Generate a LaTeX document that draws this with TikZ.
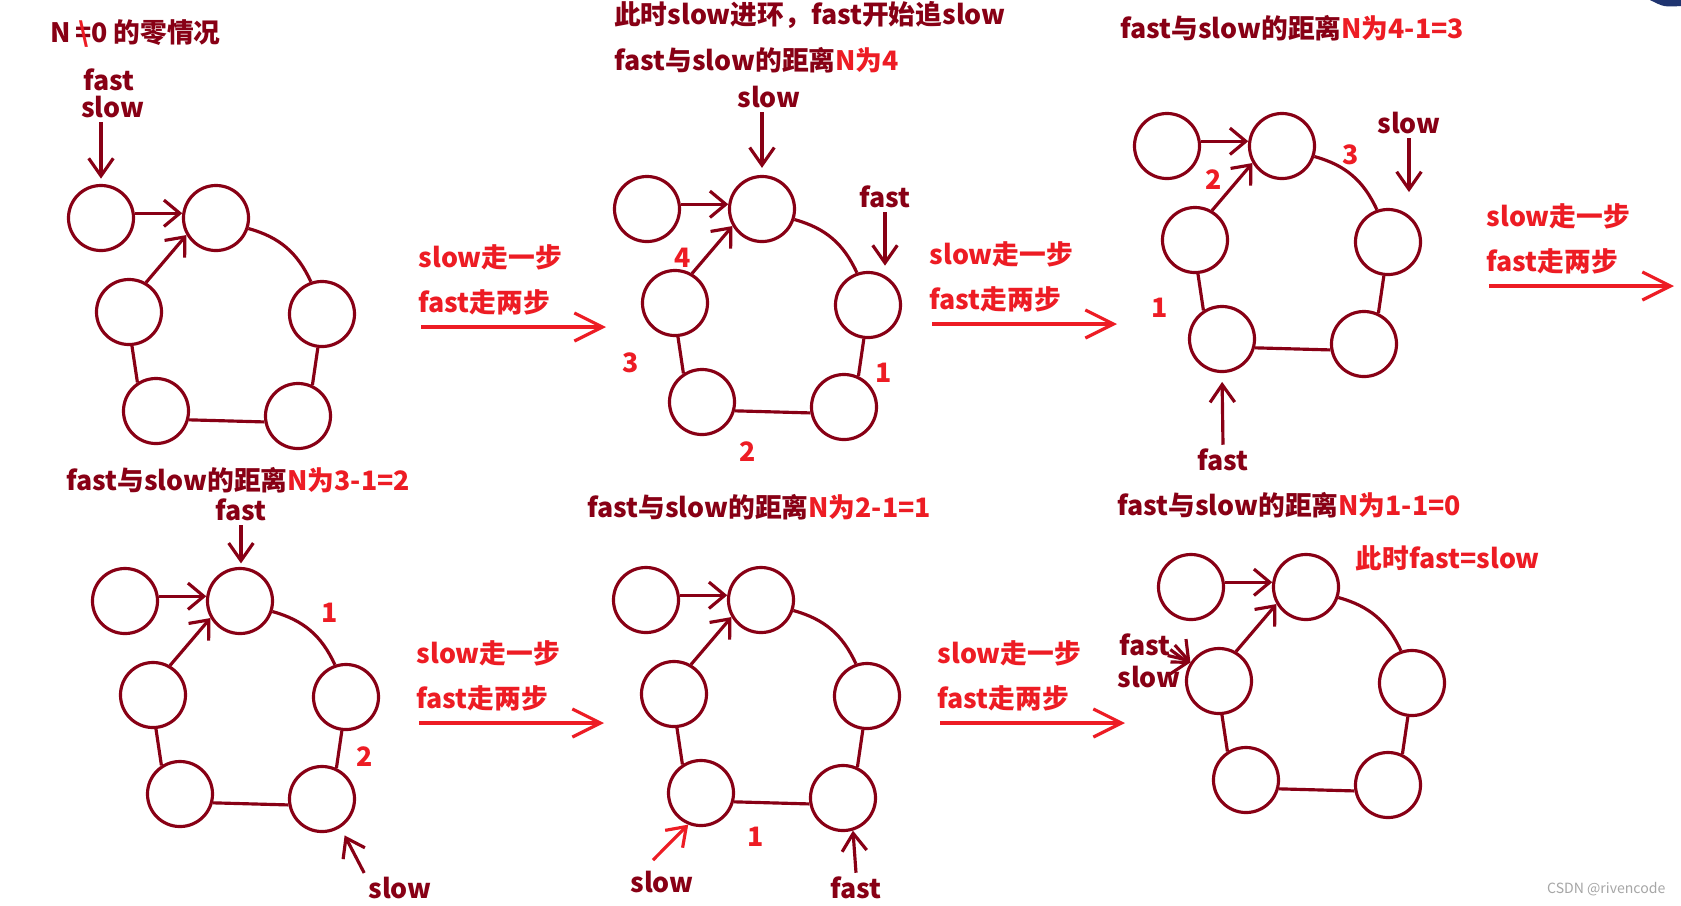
\documentclass[tikz,border=0pt]{standalone}
\usepackage{fontspec}
\setmainfont{Noto Sans CJK SC}
\usetikzlibrary{arrows.meta,calc}
\definecolor{dred}{HTML}{880015}
\definecolor{pred}{HTML}{ED1C24}
\definecolor{navy}{HTML}{1F3470}
% one copy of the list: tail node a, entry node b, ring b-d-f-e-c
\newcommand\cyclecase[3]{%
  \begin{scope}[shift={(#2,#3)}]
    \node[ring] (#1a) at (-115,0) {};
    \node[ring] (#1b) at (0,0) {};
    \node[ring] (#1c) at (-87,94) {};
    \node[ring] (#1d) at (106,96) {};
    \node[ring] (#1e) at (-60,193) {};
    \node[ring] (#1f) at (82,198) {};
    \draw[link, head] (#1a.8) -- (#1b.172);
    \draw[link, head] (#1c.60) -- (#1b.210);
    \draw[link] (#1b.-18) to[bend left=25] (#1d.109);
    \draw[link] (#1d.263) -- (#1f.65);
    \draw[link] (#1f.190) -- (#1e.-15);
    \draw[link] (#1e.123) -- (#1c.-85);
  \end{scope}}
% the red "one step / two steps" note between two cases
\newcommand\stepnote[3]{%
  \node[move, anchor=west] (#1up) at (#2,#3) {slow走一步};
  \node[move, anchor=west] (#1dn) at (#2,#3+45) {fast走两步};
  \coordinate (#1s) at (#2+3,#3+70);
  \coordinate (#1t) at (#2+188,#3+70);
  \draw[moveline] (#1s) -- (#1t);}
\begin{document}
\begin{tikzpicture}[x=0.01cm, y=-0.01cm,
  ring/.style={circle, draw=dred, line width=0.9pt, minimum size=0.65cm, inner sep=0pt},
  link/.style={dred, line width=0.9pt},
  head/.style={-{Straight Barb[length=4.5pt,width=7.5pt]}},
  ptr/.style={dred, line width=0.9pt, -{Straight Barb[length=5pt,width=7pt]}},
  lbl/.style={text=dred, font=\bfseries\fontsize{7.6}{9}\selectfont, inner sep=1pt},
  num/.style={text=pred, font=\bfseries\fontsize{7.6}{9}\selectfont, inner sep=0pt},
  move/.style={num},
  moveline/.style={pred, line width=0.9pt, -{Straight Barb[length=8pt,width=8pt]}}]
  \path[fill=white, use as bounding box] (0,0) rectangle (1681,905);
  \fill[navy] (1650,0) -- (1681,0) -- (1681,6) .. controls (1664,7) .. (1650,0);
  % Case 1
  \node[lbl, anchor=west] (t1) at (46,34) {N\,\ooalign{=\cr\hidewidth\textcolor{pred}{\textbackslash}\hidewidth\cr}0 的零情况};
  \cyclecase{p1}{216}{218}
  \node[lbl, anchor=west] (p1fast) at (79,80) {fast};
  \node[lbl, anchor=west] (p1slow) at (77,107) {slow};
  \draw[ptr, shorten >=1.5pt] (p1slow.south -| p1a.north) -- (p1a.north);
  \stepnote{m1}{418}{257}
  % Case 2
  \node[lbl, anchor=west] (t2a) at (610,15) {此时slow进环，fast开始追slow};
  \node[lbl, anchor=west] (t2b) at (610,60) {fast与slow的距离\textcolor{pred}{N为4}};
  \cyclecase{p2}{762}{209}
  \node[lbl] (p2slow) at (769,97) {slow};
  \draw[ptr, shorten >=2pt] (p2slow.south -| p2b.north) -- (p2b.north);
  \node[lbl] (p2fast) at (885,197) {fast};
  \draw[ptr, shorten >=1.5pt] (p2fast.south) -- (p2fast.south |- p2d.north);
  \node[num] (p2n4) at (683,258) {4};
  \node[num] (p2n3) at (631,363) {3};
  \node[num] (p2n2) at (748,452) {2};
  \node[num] (p2n1) at (884,373) {1};
  \stepnote{m2}{929}{254}
  % Case 3
  \node[lbl, anchor=west] (t3) at (1116,28) {fast与slow的距离\textcolor{pred}{N为4-1=3}};
  \cyclecase{p3}{1282}{146}
  \node[lbl] (p3slow) at (1409,123) {slow};
  \draw[ptr, shorten >=4.5pt] (p3slow.south) -- (p3slow.south |- p3d.north);
  \node[lbl] (p3fast) at (1223,460) {fast};
  \draw[ptr, shorten >=2.5pt] (p3fast.north) -- (p3e.south);
  \node[num] (p3n3) at (1351,155) {3};
  \node[num] (p3n2) at (1214,180) {2};
  \node[num] (p3n1) at (1160,308) {1};
  \stepnote{m3}{1486}{216}
  % Case 4
  \node[lbl, anchor=west] (t4) at (62,480) {fast与slow的距离\textcolor{pred}{N为3-1=2}};
  \cyclecase{p4}{240}{601}
  \node[lbl] (p4fast) at (241,510) {fast};
  \draw[ptr, shorten >=1pt] (p4fast.south) -- (p4fast.south |- p4b.north);
  \node[lbl] (p4slow) at (400,888) {slow};
  \draw[ptr, shorten >=2.5pt] (p4slow.north west) -- (p4f.-57);
  \node[num] (p4n1) at (330,613) {1};
  \node[num] (p4n2) at (365,757) {2};
  \stepnote{m4}{416}{653}
  % Case 5
  \node[lbl, anchor=west] (t5) at (583,507) {fast与slow的距离\textcolor{pred}{N为2-1=1}};
  \cyclecase{p5}{761}{600}
  \node[lbl] (p5slow) at (662,882) {slow};
  \coordinate (p5from) at (653,860);
  \draw[ptr, pred] (p5from) -- (p5e.248);
  \node[lbl] (p5fast) at (856,888) {fast};
  \draw[ptr] (p5fast.north) -- (p5f.-73);
  \node[num] (p5n1) at (756,837) {1};
  \stepnote{m5}{937}{653}
  % Case 6
  \node[lbl, anchor=west] (t6) at (1113,505) {fast与slow的距离\textcolor{pred}{N为1-1=0}};
  \cyclecase{p6}{1306}{587}
  \node[num, anchor=west] (p6note) at (1355,558) {此时fast=slow};
  \node[lbl] (p6fast) at (1145,645) {fast};
  \node[lbl] (p6slow) at (1149,677) {slow};
  \draw[ptr] (p6fast.east) -- (p6c.147);
  \draw[ptr] ($(p6slow.north)!0.6!(p6slow.north east)$) -- (p6c.147);
  % Watermark
  \node[text=gray!70, font=\fontsize{4}{5}\selectfont, anchor=east, inner sep=0pt] (mark) at (1666,889) {CSDN @rivencode};
\end{tikzpicture}
\end{document}
